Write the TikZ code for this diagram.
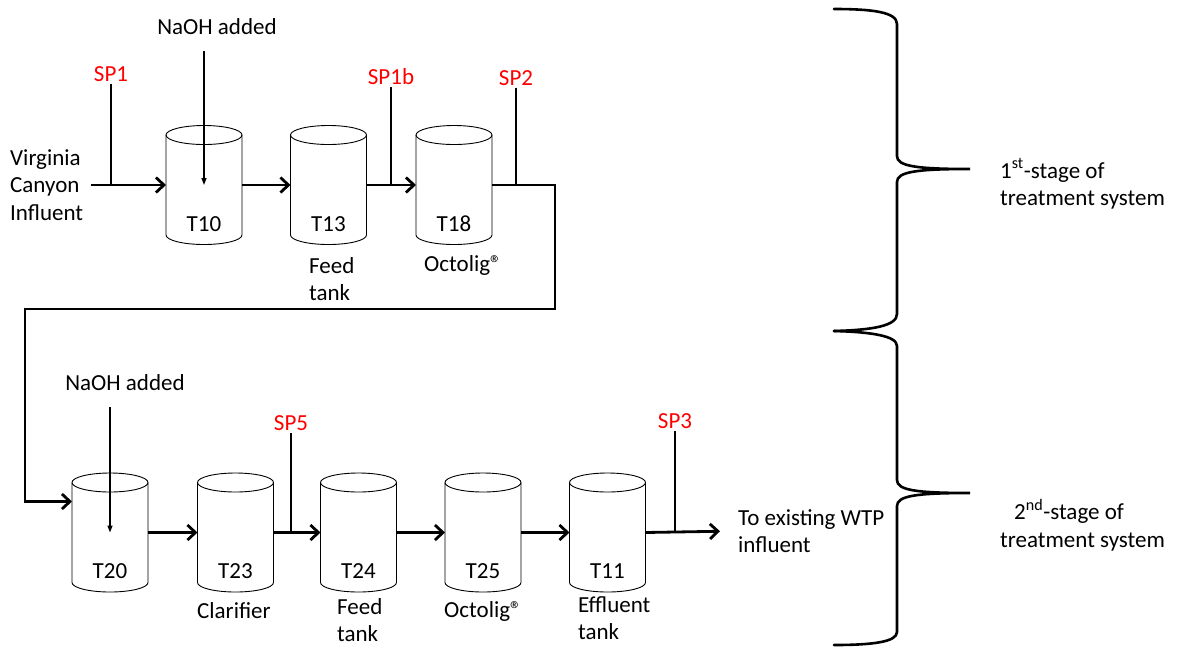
\documentclass[tikz,border=0pt]{standalone}
\usepackage{fontspec}
\setmainfont{Carlito}
\usetikzlibrary{arrows.meta}
\definecolor{samplered}{RGB}{255,0,0}

\tikzset{
  tankbody/.style={rectangle,minimum width=76pt,minimum height=100pt,inner sep=0pt,outer sep=0pt},
  tankline/.style={line width=0.9pt},
  tanklbl/.style={inner sep=0pt},
  txt/.style={align=left,inner sep=3pt},
  flow/.style={line width=2.8pt,-{Straight Barb[length=8pt,width=15pt]}},
  dose/.style={line width=1.4pt,-{Triangle[length=7pt,width=5pt]}},
  sampleline/.style={line width=1.4pt},
  samplept/.style={text=samplered,inner sep=2pt},
  bracket/.style={line width=2.6pt,line cap=round}
}

\newcommand\drawtank[3]{%
  \node[tankbody] (#1) at (#2) {};
  \draw[tankline] (#1.north west) -- (#1.south west)
    arc[start angle=180,end angle=360,x radius=38pt,y radius=9.5pt] -- (#1.north east);
  \draw[tankline] (#1.north) ellipse[x radius=38pt,y radius=9.5pt];
  \node[tanklbl] at ([yshift=-39pt]#1.center) {#3};
}

\begin{document}
\begin{tikzpicture}[x=1pt,y=-1pt,font=\fontsize{23}{27.5}\selectfont]
\useasboundingbox (0,0) rectangle (1188,649);

% first stage
\drawtank{t10}{204,185}{T10}
\drawtank{t13}{328.5,185}{T13}
\drawtank{t18}{454,185}{T18}

\node[txt,anchor=west] (vcinf) at (7,185) {Virginia\\Canyon\\Influent};
\node[txt] (naoh1) at (217,27) {NaOH added};
\node[samplept] (sp1) at (111,74) {SP1};
\node[samplept] (sp1b) at (391,77) {SP1b};
\node[samplept] (sp2) at (516,78) {SP2};
\node[txt,anchor=west] (feed1) at (306,279) {Feed\\tank};
\node[txt,anchor=west] (oct1) at (421,265) {Octolig®};

\draw[flow] ([xshift=5pt]vcinf.east) -- (t10.west);
\draw[flow] (t10.east) -- (t13.west);
\draw[flow] (t13.east) -- (t18.west);
\draw[dose] ([yshift=-13pt]naoh1.south -| t10.center) -- (t10.center);
\draw[sampleline] (sp1.south) -- (sp1.south |- t10.west);
\draw[sampleline] (sp1b.south) -- (sp1b.south |- t13.east);
\draw[sampleline] (sp2.south) -- (sp2.south |- t18.east);

% link to second stage
\coordinate (bendR) at (555,309);
\coordinate (bendL) at (25,309);

% second stage
\drawtank{t20}{110,532.5}{T20}
\drawtank{t23}{235.5,532.5}{T23}
\drawtank{t24}{358.5,532.5}{T24}
\drawtank{t25}{483,532.5}{T25}
\drawtank{t11}{607.5,532.5}{T11}

\draw[flow] (t18.east) -| (bendR) -- (bendL) |- ([yshift=31pt]t20.west);

\node[txt] (naoh2) at (125,383) {NaOH added};
\node[samplept] (sp5) at (291,423) {SP5};
\node[samplept] (sp3) at (675,421) {SP3};
\node[txt,anchor=west] (clar) at (194,611) {Clarifier};
\node[txt,anchor=west] (feed2) at (334,620) {Feed\\tank};
\node[txt,anchor=west] (oct2) at (441,611) {Octolig®};
\node[txt,anchor=west] (eff) at (575,618) {Effluent\\tank};
\node[txt,anchor=west] (wtp) at (735,531) {To existing WTP\\influent};

\draw[flow] (t20.east) -- (t23.west);
\draw[flow] (t23.east) -- (t24.west);
\draw[flow] (t24.east) -- (t25.west);
\draw[flow] (t25.east) -- (t11.west);
\draw[flow,shorten >=15pt] (t11.east) -- (wtp.west);
\draw[dose] ([yshift=-13pt]naoh2.south -| t20.center) -- (t20.center);
\draw[sampleline] (sp5.south) -- (sp5.south |- t23.east);
\draw[sampleline] (sp3.south) -- (sp3.south |- t11.east);

% stage brackets
\draw[bracket] (834,9) .. controls (872,9) and (897,12) .. (897,24) -- (897,156)
  .. controls (897,166) and (915,169) .. (970,169)
  .. controls (915,169) and (897,172) .. (897,182) -- (897,314)
  .. controls (897,326) and (872,330) .. (834,331);
\draw[bracket] (834,331) .. controls (872,332) and (897,336) .. (897,346) -- (897,480)
  .. controls (897,490) and (915,493) .. (970,493)
  .. controls (915,493) and (897,496) .. (897,506) -- (897,632)
  .. controls (897,642) and (872,645) .. (834,645);
\node[txt,anchor=west] (stage1) at (997,184) {1\textsuperscript{st}-stage of\\treatment system};
\node[txt,anchor=west] (stage2) at (997,525) {\hspace{14pt}2\textsuperscript{nd}-stage of\\treatment system};
\end{tikzpicture}
\end{document}
